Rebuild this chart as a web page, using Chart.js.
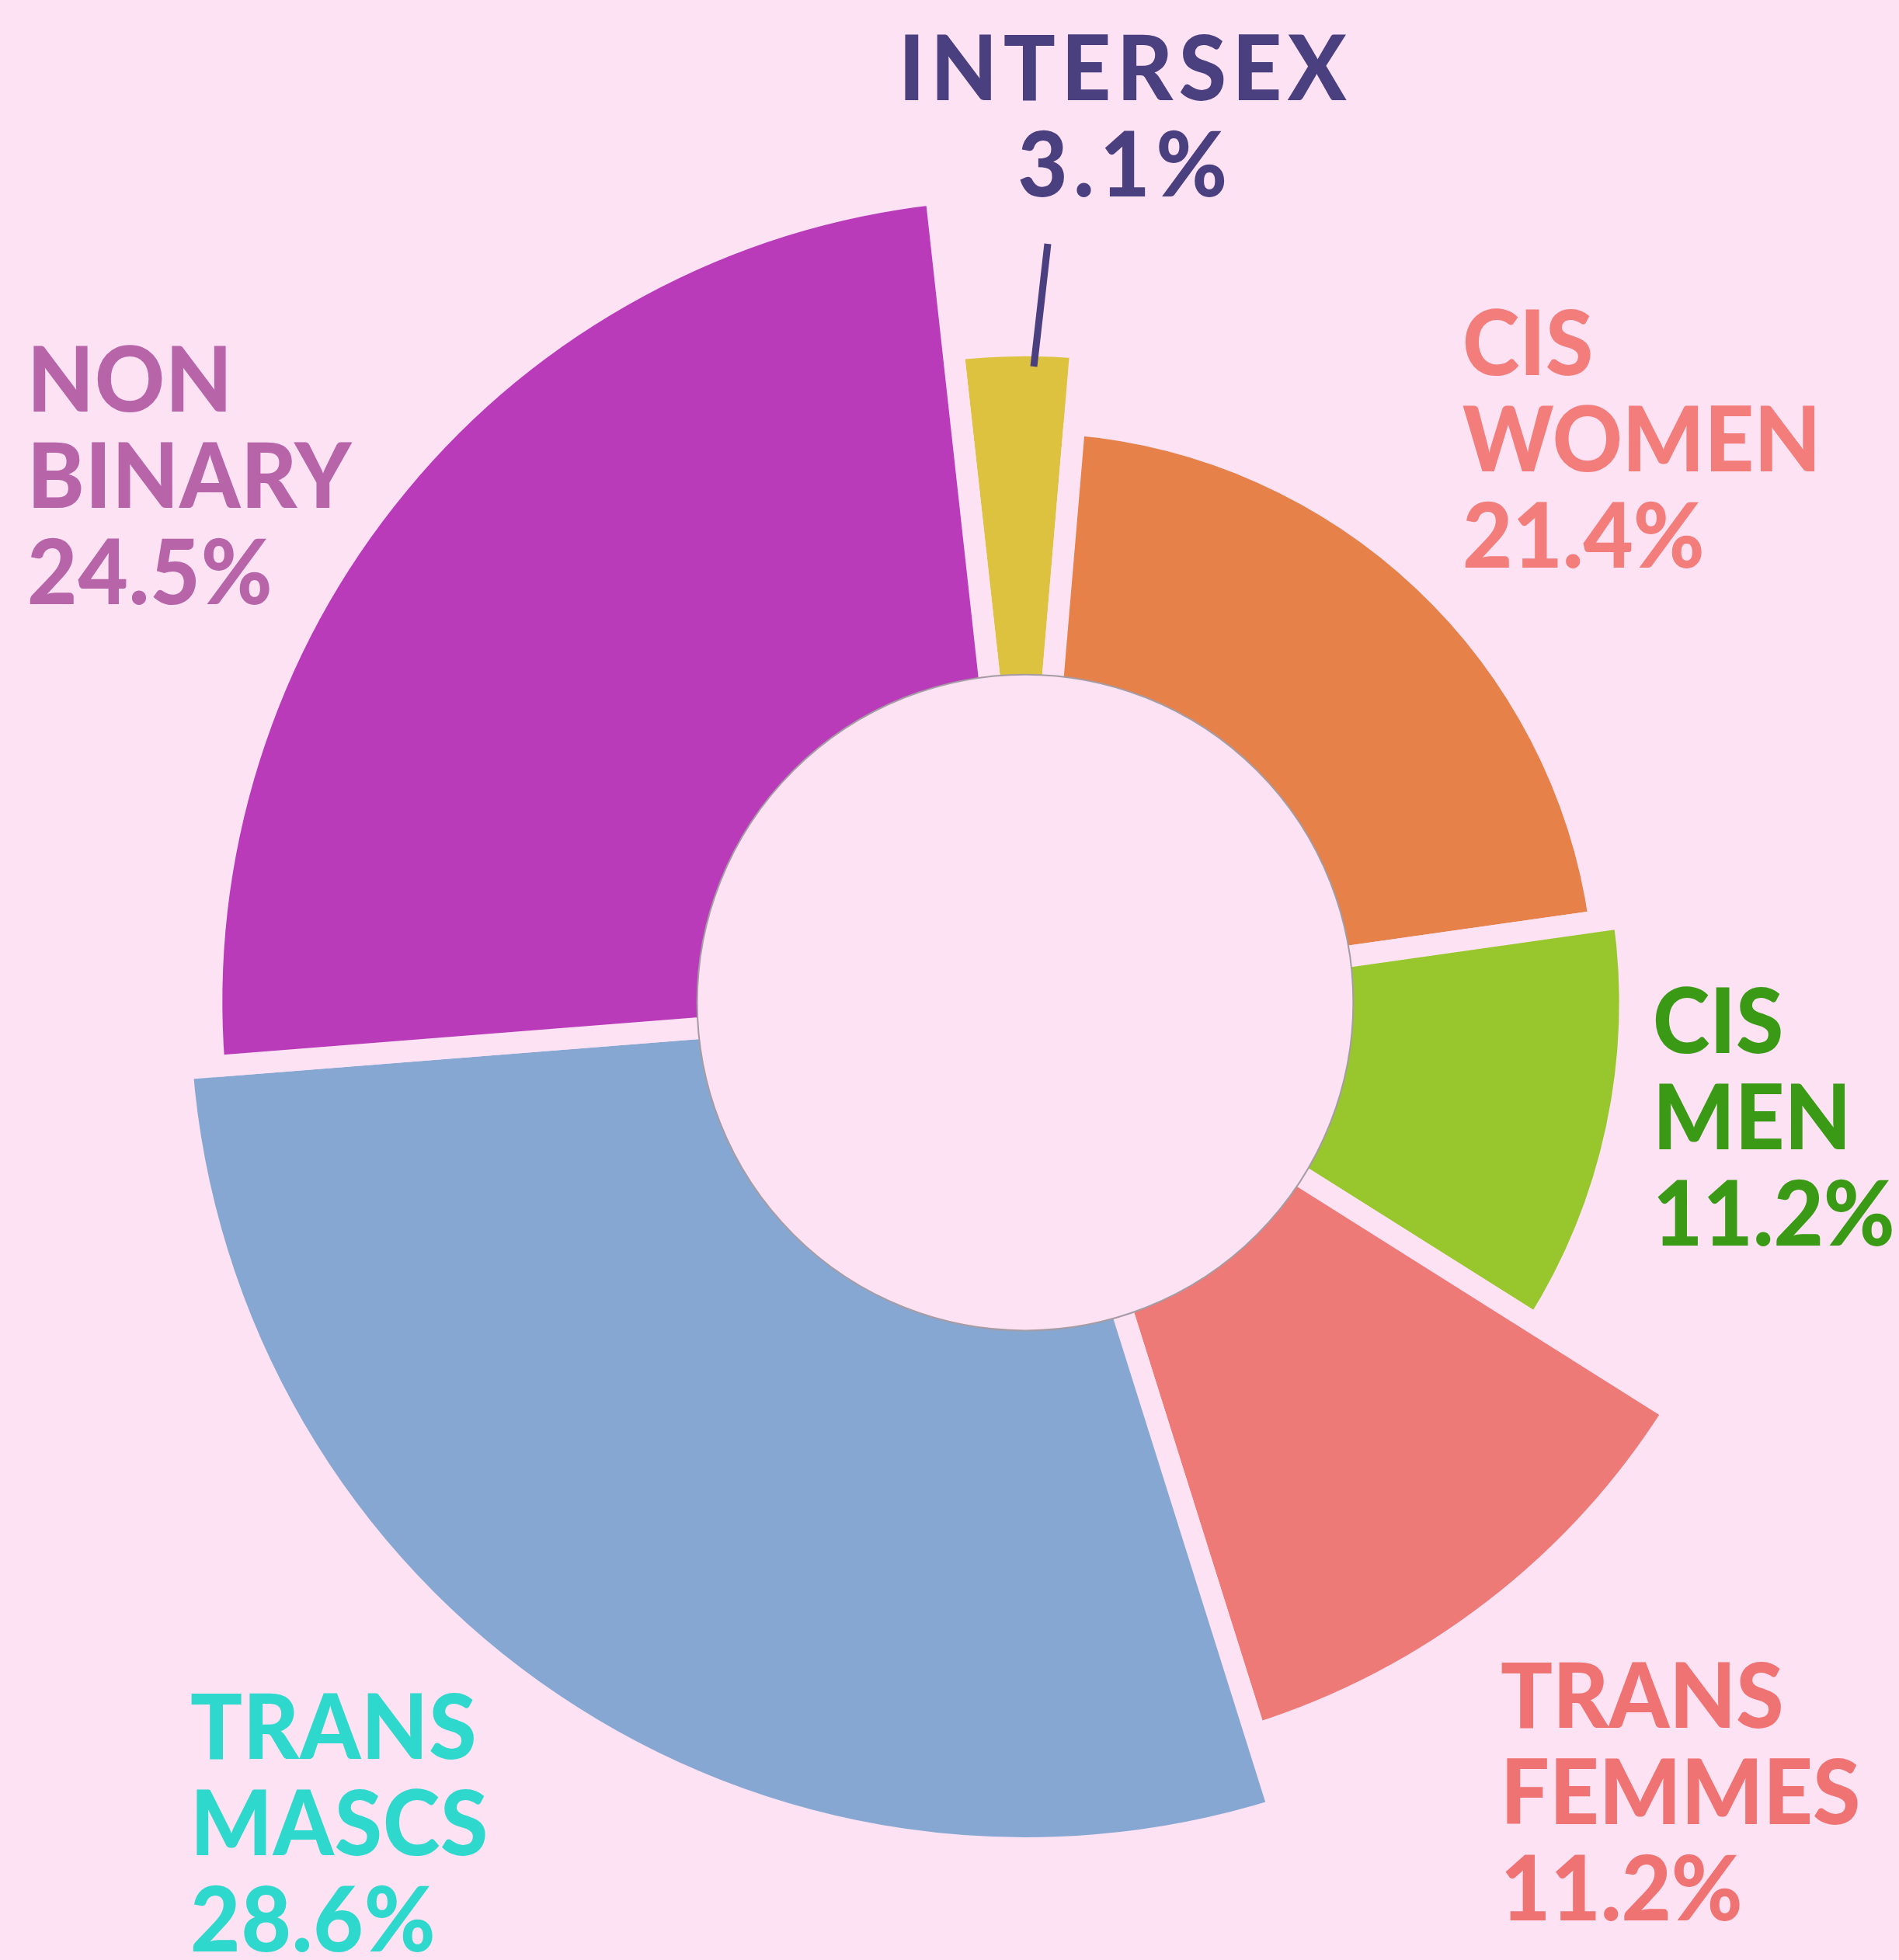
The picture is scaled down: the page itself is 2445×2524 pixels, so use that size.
<!DOCTYPE html>
<html>
<head>
<meta charset="utf-8">
<script src="https://cdn.jsdelivr.net/npm/chart.js@4.4.1/dist/chart.umd.min.js"></script>
<style>
  html, body { margin: 0; padding: 0; background: #fce2f3; }
  #wrap { width: 2445px; height: 2524px; }
</style>
</head>
<body>
<div id="wrap"><canvas id="donut" width="2445" height="2524"></canvas></div>
<script>
// share of respondents, clockwise from the top
const groups = ['Intersex', 'Cis Women', 'Cis Men', 'Trans Femmes', 'Trans Mascs', 'Non Binary'];
const shares = [3.1, 21.4, 11.2, 11.2, 28.6, 24.5];

// look of each slice (decorative, not data)
const sliceColors = ['#dcc23e', '#e6814a', '#97c72c', '#ee7a78', '#87a7d3', '#b93bba'];
const textColors = ['#4a3f7f', '#f27d7b', '#3b9a15', '#f07373', '#2fd8cc', '#b764a9'];
const ringReach = [0.777, 0.686, 0.715, 0.907, 1.0, 0.962];
// label anchors: x, first baseline, alignment, letter spacing
const labelSpots = [
    [1449, 129, 'center', 8],
    [1883, 483, 'left', 0],
    [2128, 1356, 'left', 0],
    [1932, 2225, 'left', 0],
    [245, 2265, 'left', 1],
    [35, 530, 'left', 1]
];

const paper = '#fce2f3';
const gap = 28;
const lineStep = 124;

const labelLines = (i) => {
    const words = groups[i].toUpperCase().split(' ');
    return words.concat([shares[i].toFixed(1) + '%']);
};

const donutDecor = {
    id: 'donutDecor',
    afterDatasetsUpdate(chart) {
        const meta = chart.getDatasetMeta(0);
        const outer = meta.controller.outerRadius;
        meta.data.forEach((arc, i) => {
            arc.outerRadius = outer * ringReach[i];
        });
    },
    afterDatasetsDraw(chart) {
        const ctx = chart.ctx;
        const meta = chart.getDatasetMeta(0);
        const hub = meta.data[0];
        const hubR = meta.controller.innerRadius + gap / 2;

        // the paper disc in the middle
        ctx.save();
        ctx.beginPath();
        ctx.arc(hub.x, hub.y, hubR, 0, Math.PI * 2);
        ctx.fillStyle = paper;
        ctx.fill();
        ctx.lineWidth = 2;
        ctx.strokeStyle = '#a59ca3';
        ctx.stroke();

        // leader line for the thin intersex wedge
        ctx.beginPath();
        ctx.moveTo(1349, 314);
        ctx.lineTo(1331, 472);
        ctx.lineWidth = 9;
        ctx.lineCap = 'butt';
        ctx.strokeStyle = textColors[0];
        ctx.stroke();

        // labels, a little condensed
        ctx.font = '900 117px Lato, "Open Sans", sans-serif';
        ctx.textBaseline = 'alphabetic';
        groups.forEach((g, i) => {
            const [x, y, align, track] = labelSpots[i];
            ctx.fillStyle = textColors[i];
            ctx.textAlign = align;
            ctx.letterSpacing = track + 'px';
            labelLines(i).forEach((line, k) => {
                ctx.save();
                ctx.translate(x, y + k * lineStep);
                ctx.scale(0.95, 1);
                ctx.fillText(line, 0, 0);
                ctx.restore();
            });
        });
        ctx.restore();
    }
};

new Chart(document.getElementById('donut'), {
    type: 'doughnut',
    data: {
        labels: groups,
        datasets: [{
            data: shares,
            backgroundColor: sliceColors,
            borderColor: paper,
            borderWidth: gap,
            hoverBorderWidth: gap
        }]
    },
    options: {
        responsive: false,
        animation: false,
        events: [],
        rotation: -6.3,
        cutout: '37.5%',
        layout: {
            padding: { left: 217, right: 22, top: 188, bottom: 130 }
        },
        plugins: {
            legend: { display: false },
            tooltip: { enabled: false }
        }
    },
    plugins: [donutDecor]
});
</script>
</body>
</html>
